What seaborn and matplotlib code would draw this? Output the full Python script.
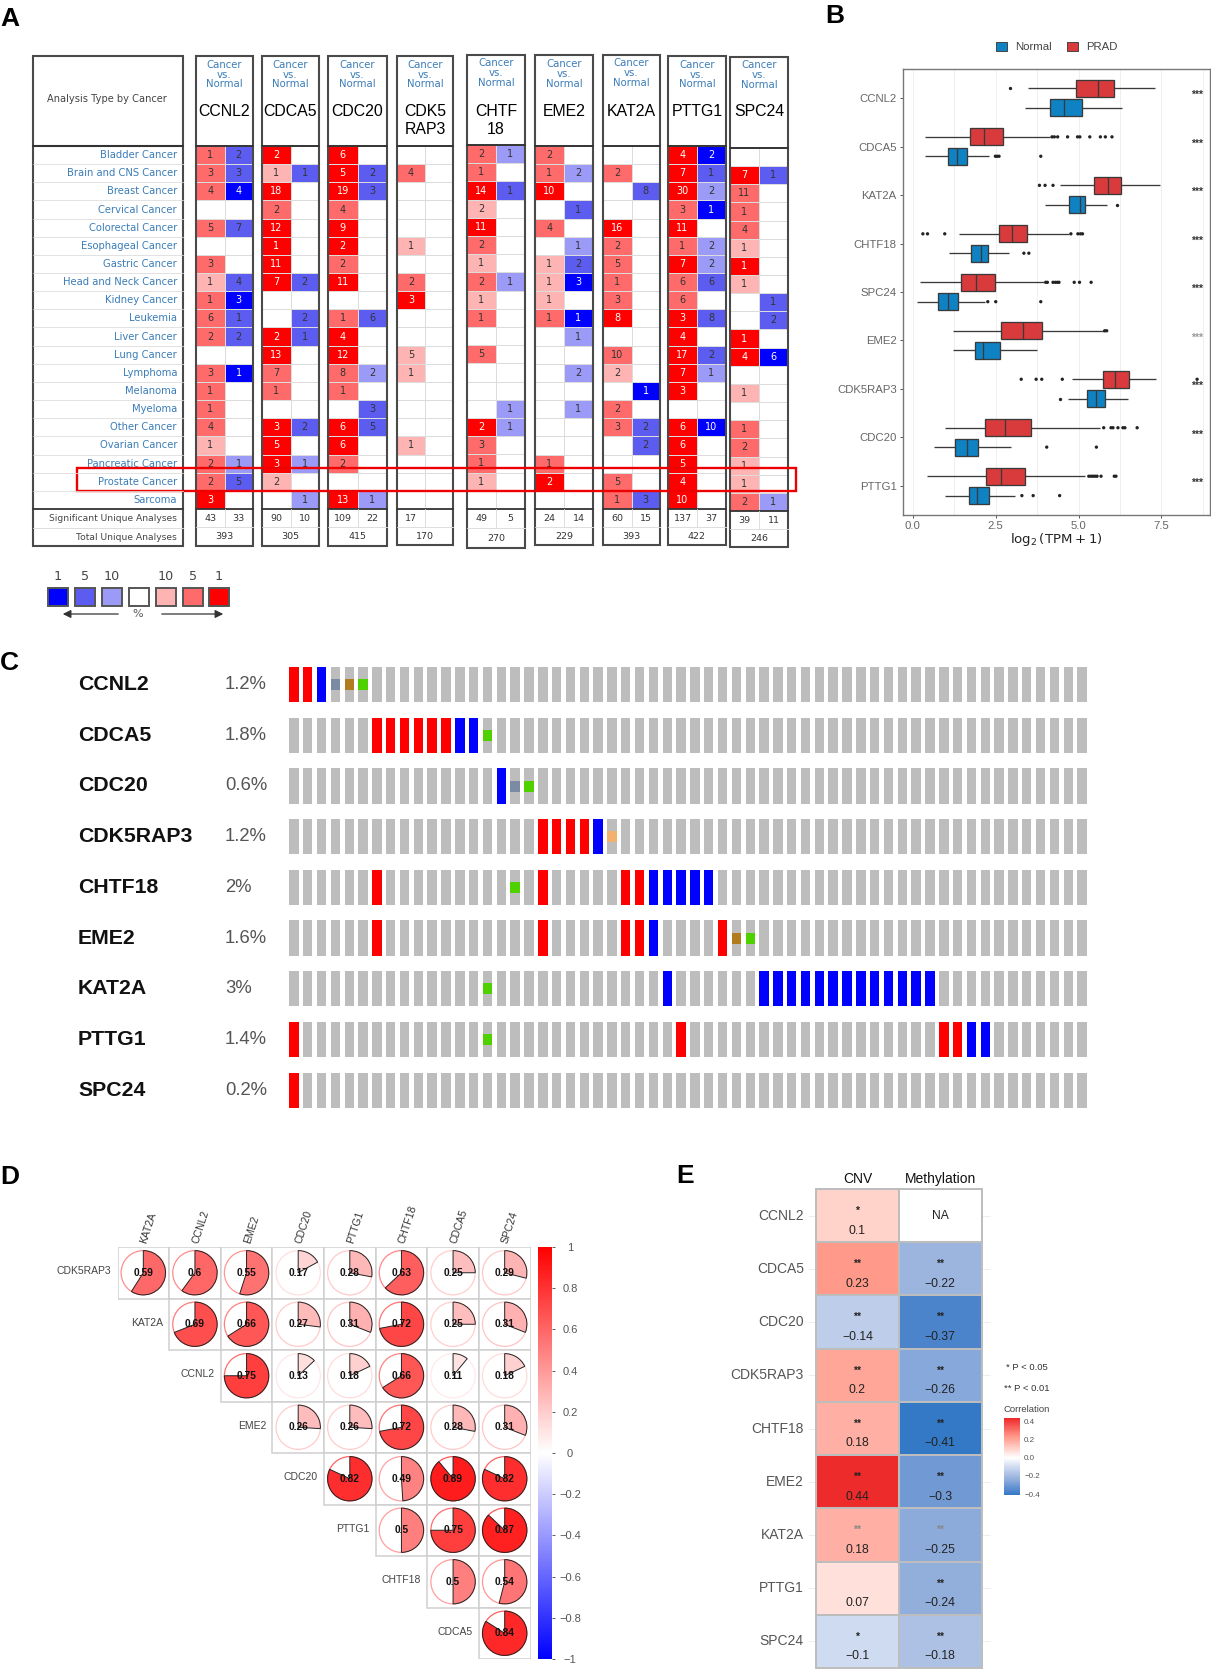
import numpy as np
import pandas as pd
import matplotlib
matplotlib.use("Agg")
import matplotlib.pyplot as plt
from matplotlib.colors import ListedColormap, LinearSegmentedColormap, Normalize
from matplotlib.patches import Rectangle, Wedge, Circle, Patch
import seaborn as sns

sns.set_theme(style="white")
plt.rcParams["font.family"] = ["Liberation Sans", "DejaVu Sans"]
W, H = 1211, 1669
fig = plt.figure(figsize=(W / 100, H / 100), dpi=100, facecolor="white")


def px_axes(x0, y0, x1, y1, **kw):
    return fig.add_axes([x0 / W, 1 - y1 / H, (x1 - x0) / W, (y1 - y0) / H], **kw)


over = fig.add_axes([0, 0, 1, 1], zorder=20)
over.set_xlim(0, W)
over.set_ylim(H, 0)
over.axis("off")

# ---------------------------------------------------------------- Panel A data
CANCERS = ["Bladder Cancer", "Brain and CNS Cancer", "Breast Cancer", "Cervical Cancer",
           "Colorectal Cancer", "Esophageal Cancer", "Gastric Cancer", "Head and Neck Cancer",
           "Kidney Cancer", "Leukemia", "Liver Cancer", "Lung Cancer", "Lymphoma", "Melanoma",
           "Myeloma", "Other Cancer", "Ovarian Cancer", "Pancreatic Cancer", "Prostate Cancer",
           "Sarcoma"]
A_GENES = ["CCNL2", "CDCA5", "CDC20", "CDK5\nRAP3", "CHTF\n18", "EME2", "KAT2A", "PTTG1", "SPC24"]
UP = [
    [1, 3, 4, 0, 5, 0, 3, 1, 1, 6, 2, 0, 3, 1, 1, 4, 1, 2, 2, 3],
    [2, 1, 18, 2, 12, 1, 11, 7, 0, 0, 2, 13, 7, 1, 0, 3, 5, 3, 2, 0],
    [6, 5, 19, 4, 9, 2, 2, 11, 0, 1, 4, 12, 8, 1, 0, 6, 6, 2, 0, 13],
    [0, 4, 0, 0, 0, 1, 0, 2, 3, 0, 0, 5, 1, 0, 0, 0, 1, 0, 0, 0],
    [2, 1, 14, 2, 11, 2, 1, 2, 1, 1, 0, 5, 0, 0, 0, 2, 3, 1, 1, 0],
    [2, 1, 10, 0, 4, 0, 1, 1, 1, 1, 0, 0, 0, 0, 0, 0, 0, 1, 2, 0],
    [0, 2, 0, 0, 16, 2, 5, 1, 3, 8, 0, 10, 2, 0, 2, 3, 0, 0, 5, 1],
    [4, 7, 30, 3, 11, 1, 7, 6, 6, 3, 4, 17, 7, 3, 0, 6, 6, 5, 4, 10],
    [0, 7, 11, 1, 4, 1, 1, 1, 0, 0, 1, 4, 0, 1, 0, 1, 2, 1, 1, 2],
]
UP_SHADE = [
    [2, 2, 2, 0, 2, 0, 2, 1, 2, 2, 2, 0, 2, 2, 2, 2, 1, 2, 2, 3],
    [3, 1, 3, 2, 3, 3, 3, 3, 0, 0, 3, 3, 2, 2, 0, 3, 3, 3, 1, 0],
    [3, 3, 3, 2, 3, 3, 2, 3, 0, 2, 3, 3, 2, 2, 0, 3, 3, 2, 0, 3],
    [0, 2, 0, 0, 0, 1, 0, 2, 3, 0, 0, 1, 1, 0, 0, 0, 1, 0, 0, 0],
    [2, 2, 3, 1, 3, 2, 1, 2, 1, 2, 0, 2, 0, 0, 0, 3, 2, 2, 1, 0],
    [2, 2, 3, 0, 2, 0, 1, 1, 1, 2, 0, 0, 0, 0, 0, 0, 0, 2, 3, 0],
    [0, 2, 0, 0, 3, 2, 2, 2, 2, 3, 0, 2, 1, 0, 2, 2, 0, 0, 2, 2],
    [3, 3, 3, 2, 3, 2, 3, 2, 2, 3, 3, 3, 3, 3, 0, 3, 3, 3, 3, 3],
    [0, 3, 2, 2, 2, 1, 3, 1, 0, 0, 3, 3, 0, 1, 0, 2, 2, 1, 1, 2],
]
DOWN = [
    [2, 3, 4, 0, 7, 0, 0, 4, 3, 1, 2, 0, 1, 0, 0, 0, 0, 1, 5, 0],
    [0, 1, 0, 0, 0, 0, 0, 2, 0, 2, 1, 0, 0, 0, 0, 2, 0, 1, 0, 1],
    [0, 2, 3, 0, 0, 0, 0, 0, 0, 6, 0, 0, 2, 0, 3, 5, 0, 0, 0, 1],
    [0] * 20,
    [1, 0, 1, 0, 0, 0, 0, 1, 0, 0, 0, 0, 0, 0, 1, 1, 0, 0, 0, 0],
    [0, 2, 0, 1, 0, 1, 2, 3, 0, 1, 1, 0, 2, 0, 1, 0, 0, 0, 0, 0],
    [0, 0, 8, 0, 0, 0, 0, 0, 0, 0, 0, 0, 0, 1, 0, 2, 2, 0, 0, 3],
    [2, 1, 2, 1, 0, 2, 2, 6, 0, 8, 0, 2, 1, 0, 0, 10, 0, 0, 0, 0],
    [0, 1, 0, 0, 0, 0, 0, 0, 1, 2, 0, 6, 0, 0, 0, 0, 0, 0, 0, 1],
]
DOWN_SHADE = [
    [2, 2, 3, 0, 2, 0, 0, 2, 3, 2, 2, 0, 3, 0, 0, 0, 0, 1, 2, 0],
    [0, 2, 0, 0, 0, 0, 0, 2, 0, 2, 2, 0, 0, 0, 0, 2, 0, 1, 0, 1],
    [0, 2, 2, 0, 0, 0, 0, 0, 0, 2, 0, 0, 1, 0, 2, 2, 0, 0, 0, 1],
    [0] * 20,
    [1, 0, 2, 0, 0, 0, 0, 1, 0, 0, 0, 0, 0, 0, 1, 1, 0, 0, 0, 0],
    [0, 1, 0, 2, 0, 1, 2, 3, 0, 3, 1, 0, 1, 0, 1, 0, 0, 0, 0, 0],
    [0, 0, 2, 0, 0, 0, 0, 0, 0, 0, 0, 0, 0, 3, 0, 2, 2, 0, 0, 2],
    [3, 2, 1, 3, 0, 1, 1, 2, 0, 2, 0, 2, 1, 0, 0, 3, 0, 0, 0, 0],
    [0, 2, 0, 0, 0, 0, 0, 0, 2, 2, 0, 3, 0, 0, 0, 0, 0, 0, 0, 1],
]
SIG_UP = [43, 90, 109, 17, 49, 24, 60, 137, 39]
SIG_DOWN = [33, 10, 22, None, 5, 14, 15, 37, 11]
TOTALS = [393, 305, 415, 170, 270, 229, 393, 422, 246]
# layout of each gene column: x0, x1, top, header bottom, rows bottom, bottom
A_COLS = [(196, 253, 56, 146, 509, 546), (262, 319, 56, 146, 509, 546), (328, 387, 56, 146, 509, 546),
          (397, 453, 56, 146, 509, 545), (467, 525, 55, 145, 509, 548), (535, 593, 55.5, 146, 509, 545),
          (603, 660, 55, 146, 509, 545), (668, 726, 56, 146, 509, 545), (730, 788, 57, 148, 511, 547)]
SHADE_COLS = ["#0000ff", "#5c5cf0", "#9b9bf7", "#ffffff", "#ffb4b4", "#ff6b6b", "#ff0000"]
BLUE_TXT = "#3b7db8"
DK = "#4a4a4a"
DJ = "DejaVu Sans"

cmap_a = ListedColormap(SHADE_COLS)
over.add_patch(Rectangle((33, 56), 150, 490, fc="none", ec=DK, lw=1.5))
over.plot([33, 183], [146, 146], color="#333", lw=1.5)
over.plot([33, 183], [509, 509], color="#333", lw=1.3)
over.plot([33, 183], [528, 528], color="#ddd", lw=.7)
over.text(107, 99, "Analysis Type by Cancer", ha="center", va="center", fontsize=7.1, family=DJ, color="#444")
for r, name in enumerate(CANCERS):
    yy = 146 + (r + .5) * 18.15
    over.text(177, yy, name, ha="right", va="center", fontsize=7.2, family=DJ, color=BLUE_TXT)
    if r:
        over.plot([33, 183], [146 + r * 18.15] * 2, color="#dddddd", lw=.6)
over.text(177, 518.5, "Significant Unique Analyses", ha="right", va="center", fontsize=6.6, family=DJ, color="#444")
over.text(177, 537, "Total Unique Analyses", ha="right", va="center", fontsize=6.6, family=DJ, color="#444")

for g, gene in enumerate(A_GENES):
    x0, x1, top, hdr, rbot, bot = A_COLS[g]
    ax = px_axes(x0, hdr, x1, rbot)
    shades = np.column_stack([UP_SHADE[g], -np.array(DOWN_SHADE[g])])
    labels = np.array([[str(u) if u else "", str(d) if d else ""] for u, d in zip(UP[g], DOWN[g])])
    sns.heatmap(shades, annot=labels, fmt="", cmap=cmap_a, vmin=-3.5, vmax=3.5, cbar=False,
                linewidths=.5, linecolor="#dcdcdc", xticklabels=False, yticklabels=False, ax=ax,
                annot_kws={"size": 7, "family": DJ})
    for t, s in zip(ax.texts, shades.ravel()):
        t.set_color("white" if abs(s) == 3 else "#333333")
    xm = (x0 + x1) / 2
    over.add_patch(Rectangle((x0, top), x1 - x0, bot - top, fc="none", ec=DK, lw=1.5))
    over.plot([x0, x1], [hdr, hdr], color="#333", lw=1.4)
    over.plot([x0, x1], [rbot, rbot], color="#333", lw=1.3)
    over.plot([xm, xm], [rbot, (rbot + bot) / 2], color="#ddd", lw=.7)
    over.plot([x0, x1], [(rbot + bot) / 2] * 2, color="#ddd", lw=.7)
    for yy, word in zip((top + 8.5, top + 18.5, top + 28.2), ("Cancer", "vs.", "Normal")):
        over.text(xm, yy, word, ha="center", va="center", fontsize=7.3, family=DJ, color=BLUE_TXT)
    for k, line in enumerate(gene.split("\n")):
        over.text(xm, 111.5 + 18.2 * k, line, ha="center", va="center", fontsize=11.4, color="black")
    sy = rbot + (bot - rbot) * .25
    over.text((x0 + xm) / 2, sy, str(SIG_UP[g]), ha="center", va="center", fontsize=6.8, family=DJ, color="#333")
    if SIG_DOWN[g] is not None:
        over.text((xm + x1) / 2, sy, str(SIG_DOWN[g]), ha="center", va="center", fontsize=6.8, family=DJ, color="#333")
    over.text(xm, rbot + (bot - rbot) * .75, str(TOTALS[g]), ha="center", va="center", fontsize=6.8, family=DJ, color="#333")

# legend of panel A
for xs, c, lab in zip((48, 75, 102, 129, 156, 183, 209), SHADE_COLS,
                      ("1", "5", "10", "", "10", "5", "1")):
    over.add_patch(Rectangle((xs, 588), 20, 17.5, fc=c, ec="#555", lw=1.4))
    over.text(xs + 10, 576.5, lab, ha="center", va="center", fontsize=9.2, family=DJ, color="#444")
over.annotate("", xy=(60, 614), xytext=(121, 614), arrowprops=dict(arrowstyle="-|>", color="#333", lw=.9))
over.annotate("", xy=(226, 614), xytext=(159, 614), arrowprops=dict(arrowstyle="-|>", color="#333", lw=.9))
over.text(138, 614, "%", ha="center", va="center", fontsize=8, family=DJ, color="#555")
over.add_patch(Rectangle((77, 468), 719, 23, fc="none", ec="#ee0000", lw=1.7))

# ---------------------------------------------------------------- Panel B data
B_GENES = ["CCNL2", "CDCA5", "KAT2A", "CHTF18", "SPC24", "EME2", "CDK5RAP3", "CDC20", "PTTG1"]
PRAD_STATS = [
    [3.47, 4.92, 5.59, 6.06, 7.32], [0.37, 1.71, 2.15, 2.71, 4.13], [4.45, 5.48, 5.90, 6.29, 7.47],
    [1.38, 2.59, 2.98, 3.44, 4.70], [0.20, 1.46, 1.91, 2.48, 3.95], [1.21, 2.65, 3.33, 3.89, 5.76],
    [4.80, 5.73, 6.11, 6.51, 7.34], [0.96, 2.17, 2.78, 3.56, 5.64], [0.42, 2.21, 2.66, 3.39, 5.21]]
NORMAL_STATS = [
    [3.39, 4.15, 4.55, 5.11, 6.31], [0.35, 1.06, 1.34, 1.62, 2.29], [3.98, 4.70, 5.03, 5.21, 5.86],
    [1.10, 1.76, 2.05, 2.28, 2.89], [0.13, 0.77, 1.06, 1.36, 2.19], [1.21, 1.87, 2.11, 2.64, 3.75],
    [4.67, 5.27, 5.54, 5.80, 6.49], [0.65, 1.26, 1.62, 1.96, 2.95], [0.96, 1.68, 1.94, 2.31, 3.09]]
PRAD_OUT = [
    [2.92], [4.20, 4.27, 4.37, 4.67, 4.97, 5.04, 5.34, 5.66, 5.81, 6.01], [3.82, 3.99, 4.23],
    [.30, .44, .96, 4.77, 4.98, 5.06, 5.12], [4.01, 4.06, 4.23, 4.30, 4.36, 4.41, 4.87, 5.03, 5.38],
    [5.79, 5.85], [3.27, 3.72, 3.89, 4.51, 8.58], [5.76, 5.98, 6.04, 6.19, 6.34, 6.40, 6.77],
    [5.31, 5.38, 5.44, 5.50, 5.56, 5.68, 6.08, 6.13]]
NORMAL_OUT = [
    [], [2.49, 2.54, 2.60, 3.86], [6.16], [3.35, 3.50], [2.26, 2.50, 3.86], [], [4.43], [4.04, 5.54],
    [3.29, 3.63, 4.43]]
B_PAL = {"Normal": "#0f82c4", "PRAD": "#d93a3c"}

rows = []
outs = []
for gene, ps, ns, po, no in zip(B_GENES, PRAD_STATS, NORMAL_STATS, PRAD_OUT, NORMAL_OUT):
    rows += [(gene, "PRAD", v) for v in ps] + [(gene, "Normal", v) for v in ns]
    outs += [(gene, "PRAD", v) for v in po] + [(gene, "Normal", v) for v in no]
box_df = pd.DataFrame(rows, columns=["gene", "group", "value"])
out_df = pd.DataFrame(outs, columns=["gene", "group", "value"])

axb = px_axes(903, 69, 1210, 515)
sns.boxplot(data=box_df, x="value", y="gene", hue="group", order=B_GENES, hue_order=["PRAD", "Normal"],
            palette=B_PAL, whis=(0, 100), fliersize=0, width=.8, gap=.12, saturation=1,
            linewidth=.95, linecolor="#3a3a3a", showcaps=False, legend=False, ax=axb)
sns.stripplot(data=out_df, x="value", y="gene", hue="group", order=B_GENES, hue_order=["PRAD", "Normal"],
              palette={"PRAD": "#222222", "Normal": "#222222"}, dodge=True, jitter=False, size=2.4,
              legend=False, ax=axb)
axb.set_xlim(-.30, 8.97)
axb.set_ylim(8.6, -.6)
axb.set_xticks([0, 2.5, 5, 7.5], ["0.0", "2.5", "5.0", "7.5"])
axb.set_xticks([1.25, 3.75, 6.25, 8.75], minor=True)
axb.grid(axis="x", which="both", color="#efefef", lw=.7)
axb.set_axisbelow(True)
axb.tick_params(axis="both", which="major", length=2.5, width=.7, color="#555", labelsize=8.2, labelcolor="#666", pad=2,
                bottom=True, left=True)
axb.set_ylabel("")
axb.set_xlabel(r"$\log_2(\mathrm{TPM}+1)$", fontsize=9.6, color="#222", labelpad=0)
for s in axb.spines.values():
    s.set_color("#777777")
    s.set_linewidth(1)
for i, c in enumerate(["#333"] * 5 + ["#999"] + ["#333"] * 3):
    axb.text(8.58, i - .06, "***", ha="center", va="center", fontsize=7.5, fontweight="bold", color=c)
axb.legend(handles=[Patch(fc=B_PAL["Normal"], ec="#444", lw=.7, label="Normal"),
                    Patch(fc=B_PAL["PRAD"], ec="#444", lw=.7, label="PRAD")],
           ncol=2, frameon=False, loc="lower center", bbox_to_anchor=(.5, 1.025), fontsize=8.2, labelcolor="#444",
           handlelength=1.0, handleheight=.9, columnspacing=1.3, handletextpad=.7, borderpad=0)

# ---------------------------------------------------------------- Panel C data
C_GENES = ["CCNL2", "CDCA5", "CDC20", "CDK5RAP3", "CHTF18", "EME2", "KAT2A", "PTTG1", "SPC24"]
C_PCT = ["1.2%", "1.8%", "0.6%", "1.2%", "2%", "1.6%", "3%", "1.4%", "0.2%"]
N_SAMPLES = 58
C_RED = [[0, 1], [6, 7, 8, 9, 10, 11], [], [18, 19, 20, 21], [6, 18, 24, 25], [6, 18, 24, 25, 31], [], [0, 28, 47, 48], [0]]
C_BLUE = [[2], [12, 13], [15], [22], [26, 27, 28, 29, 30], [26], [27] + list(range(34, 47)), [49, 50], []]
C_GREEN = [[5], [14], [17], [], [16], [33], [14], [14], []]
C_SLATE = [[3], [], [16], [], [], [], [], [], []]
C_BROWN = [[4], [], [], [], [], [32], [], [], []]
C_ORANGE = [[], [], [], [23], [], [], [], [], []]
ALL_IDX = list(range(N_SAMPLES))
for r, gene in enumerate(C_GENES):
    y0 = 667 + r * 50.7
    ax = px_axes(287, y0, 1089, y0 + 35.3)
    cols = ["#bdbdbd"] * N_SAMPLES
    for i in C_RED[r]:
        cols[i] = "#ff0000"
    for i in C_BLUE[r]:
        cols[i] = "#0000ff"
    sns.barplot(x=ALL_IDX, y=[1.0] * N_SAMPLES, hue=ALL_IDX, palette=cols, order=ALL_IDX, dodge=False,
                width=.68, saturation=1, linewidth=0, errorbar=None, legend=False, ax=ax)
    for idxs, colr in ((C_GREEN[r], "#4fd100"), (C_SLATE[r], "#7a8ba3"), (C_BROWN[r], "#b07c1e"), (C_ORANGE[r], "#f2b26e")):
        if idxs:
            sns.barplot(x=idxs, y=[.31] * len(idxs), order=ALL_IDX, color=colr, bottom=.345,
                        width=.68, saturation=1, linewidth=0, errorbar=None, ax=ax)
    ax.set_xlim(-.5, N_SAMPLES - .5)
    ax.set_ylim(0, 1)
    ax.axis("off")
    over.text(78, y0 + 17.5, gene, ha="left", va="center", fontsize=15.3, fontweight="bold", color="#111")
    over.text(225, y0 + 17.5, C_PCT[r], ha="left", va="center", fontsize=13.3, color="#555")

# ---------------------------------------------------------------- Panel D data
D_ROWS = ["CDK5RAP3", "KAT2A", "CCNL2", "EME2", "CDC20", "PTTG1", "CHTF18", "CDCA5"]
D_COLS = ["KAT2A", "CCNL2", "EME2", "CDC20", "PTTG1", "CHTF18", "CDCA5", "SPC24"]
N = np.nan
D_VALUES = [
    [.59, .60, .55, .17, .28, .63, .25, .29],
    [N, .69, .66, .27, .31, .72, .25, .31],
    [N, N, .75, .13, .18, .66, .11, .18],
    [N, N, N, .26, .26, .72, .28, .31],
    [N, N, N, N, .82, .49, .89, .82],
    [N, N, N, N, N, .50, .75, .87],
    [N, N, N, N, N, N, .50, .54],
    [N, N, N, N, N, N, N, .84],
]
vals = pd.DataFrame(D_VALUES, index=D_ROWS, columns=D_COLS)
axd = px_axes(117.5, 1247, 530.5, 1659)
caxd = px_axes(537.5, 1247, 552, 1659)
sns.heatmap(vals, cmap="bwr", vmin=-1, vmax=1, cbar_ax=caxd, xticklabels=False, yticklabels=False, ax=axd)
axd.collections[0].set_visible(False)
cbd = axd.collections[0].colorbar
cb_ticks = np.round(np.arange(-1, 1.01, .2), 1)
cbd.set_ticks(cb_ticks, labels=["\u22121", "\u22120.8", "\u22120.6", "\u22120.4", "\u22120.2", "0", "0.2", "0.4", "0.6", "0.8", "1"])
caxd.tick_params(length=2.5, width=.6, color="#444", labelsize=8, labelcolor="#555", pad=10.4)
for lab in caxd.get_yticklabels():
    lab.set_ha("center")
cbd.outline.set_visible(False)
bwr = plt.get_cmap("bwr")
norm = Normalize(-1, 1)
for i in range(8):
    for j in range(8):
        v = D_VALUES[i][j]
        if np.isnan(v):
            continue
        axd.add_patch(Rectangle((j, i), 1, 1, fc="white", ec="#cfcfcf", lw=1.1))
        c = bwr(norm(v))
        axd.add_patch(Circle((j + .5, i + .5), .43, fc="white", ec=c, lw=.9, alpha=.75))
        axd.add_patch(Wedge((j + .5, i + .5), .43, -90, -90 + 360 * v, fc=c, ec="#222", lw=.7))
        axd.text(j + .5, i + .5, f"{v:g}", ha="center", va="center", fontsize=7.4, fontweight="bold", color="#111")
    axd.text(i - .12, i + .47, D_ROWS[i], ha="right", va="center", fontsize=7.5, color="#444")
    axd.text(i + .6, -.05, D_COLS[i], ha="left", va="bottom", rotation=72, rotation_mode="anchor",
             fontsize=7.5, color="#333")

# ---------------------------------------------------------------- Panel E data
E_GENES = ["CCNL2", "CDCA5", "CDC20", "CDK5RAP3", "CHTF18", "EME2", "KAT2A", "PTTG1", "SPC24"]
CNV = [.1, .23, -.14, .2, .18, .44, .18, .07, -.1]
METH = [N, -.22, -.37, -.26, -.41, -.3, -.25, -.24, -.18]
CNV_STARS = ["*", "**", "**", "**", "**", "**", "**", "", "*"]
METH_STARS = ["", "**", "**", "**", "**", "**", "**", "**", "**"]
e_df = pd.DataFrame({"CNV": CNV, "Methylation": METH}, index=E_GENES)
E_RAMP = [(-.44, "#2272c3"), (-.37, "#4d84cb"), (-.22, "#9cb5df"), (-.14, "#bdcdea"), (0, "#ffffff"),
          (.1, "#ffd3cb"), (.23, "#ff9a8b"), (.44, "#ee2b2b")]
cmap_e = LinearSegmentedColormap.from_list("e", [((v + .44) / .88, c) for v, c in E_RAMP])
cmap_e.set_bad("white")
axe = px_axes(816, 1189, 981.5, 1668)
caxe = px_axes(1003.5, 1418, 1020, 1495)
sns.heatmap(e_df, cmap=cmap_e, vmin=-.41, vmax=.44, center=0, linewidths=1.4, linecolor="#bdbdbd",
            cbar_ax=caxe, ax=axe)
axe.xaxis.tick_top()
axe.tick_params(axis="x", length=0, labelsize=10, labelcolor="#111", pad=2)
axe.tick_params(axis="y", length=5.8, width=.7, color="#eeeeee", labelsize=10, labelcolor="#555", pad=3,
                left=True, right=True, rotation=0)
for s in axe.spines.values():
    s.set_visible(True)
    s.set_color("#bdbdbd")
    s.set_linewidth(1.4)
for r, gene in enumerate(E_GENES):
    for c, (series, stars) in enumerate(((CNV, CNV_STARS), (METH, METH_STARS))):
        v = series[r]
        if np.isnan(v):
            axe.text(c + .5, r + .5, "NA", ha="center", va="center", fontsize=8.7, color="#222")
            continue
        if stars[r]:
            axe.text(c + .5, r + .41, stars[r], ha="center", va="center", fontsize=7.5, fontweight="bold",
                     color="#888" if gene == "KAT2A" else "#222")
        axe.text(c + .5, r + .78, f"{v:g}".replace("-", "\u2212"), ha="center", va="center", fontsize=8.8, color="#222")
cbe = axe.collections[0].colorbar
cbe.set_ticks([-.4, -.2, 0, .2, .4], labels=["\u22120.4", "\u22120.2", "0.0", "0.2", "0.4"])
caxe.tick_params(length=3, width=.7, color="white", direction="in", labelsize=5.8, labelcolor="#555", pad=3)
cbe.outline.set_visible(False)
over.text(1006, 1367, "* P < 0.05", ha="left", va="center", fontsize=6.8, color="#333")
over.text(1004, 1388, "** P < 0.01", ha="left", va="center", fontsize=6.8, color="#333")
over.text(1003.5, 1409, "Correlation", ha="left", va="center", fontsize=6.8, color="#444")

# ---------------------------------------------------------------- panel letters
for lab, x, y in (("A", 0, 19), ("B", 825, 16), ("C", 0, 663), ("D", 0, 1177), ("E", 676, 1176)):
    over.text(x, y, lab, ha="left", va="center", fontsize=19, fontweight="bold", color="black")

fig.savefig("out.png", dpi=100, facecolor="white")
